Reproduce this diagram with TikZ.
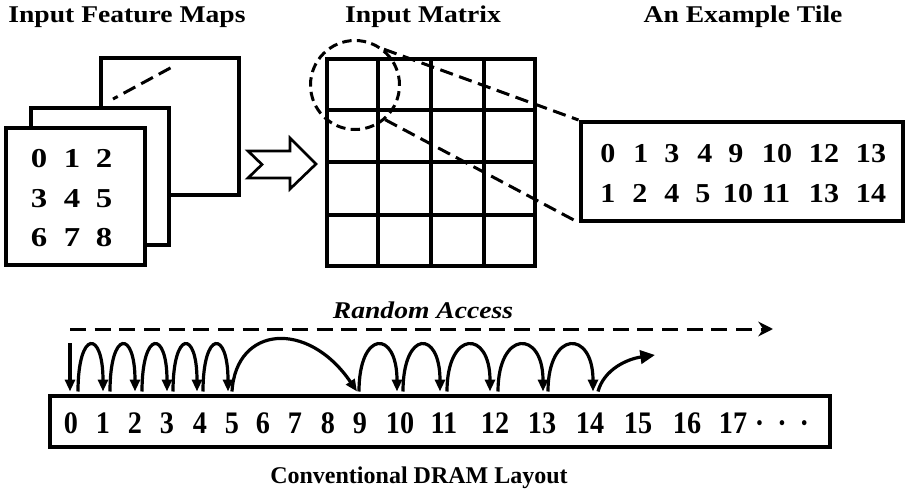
\documentclass[tikz,border=0pt]{standalone}
\usepackage{fontspec}
\setmainfont{Liberation Serif}
% widened / narrowed cuts of the same serif face
\newfontfamily\fTitle[FakeStretch=1.15]{Liberation Serif}
\newfontfamily\fConv[FakeStretch=1.0]{Liberation Serif}
\newfontfamily\fMap[FakeStretch=1.2]{Liberation Serif}
\newfontfamily\fTile[FakeStretch=1.1]{Liberation Serif}
\newfontfamily\fDram[FakeStretch=0.9]{Liberation Serif}
\usetikzlibrary{arrows.meta,calc}
\begin{document}
\begin{tikzpicture}[x=0.75pt,y=-0.75pt,
  frame/.style={draw, line width=3pt, fill=white, inner sep=0pt},
  gridline/.style={line width=3pt},
  heading/.style={font=\fTitle\bfseries\fontsize{18}{21}\selectfont, anchor=base, inner sep=0pt},
  mapnum/.style={font=\fMap\bfseries\fontsize{20.5}{24}\selectfont, anchor=base, inner sep=0pt},
  tilenum/.style={font=\fTile\bfseries\fontsize{20.5}{24}\selectfont, anchor=base, inner sep=0pt},
  dramnum/.style={font=\fDram\bfseries\fontsize{23.5}{27}\selectfont, anchor=base, inner sep=0pt},
  zoomline/.style={line width=2.25pt, dash pattern=on 10pt off 5pt},
  hop/.style={line width=2.4pt, -{Triangle[length=9pt,width=7.5pt]}},
]
\useasboundingbox (0,0) rectangle (908,492);

% ---- headings ----
\node[heading] (hMaps) at (127,23) {Input Feature Maps};
\node[heading] (hMat)  at (423,23) {Input Matrix};
\node[heading] (hTile) at (743,23) {An Example Tile};

% ---- stacked feature maps ----
\node[frame, minimum width=138*0.75pt, minimum height=137*0.75pt] (fmBack) at (170,126.5) {};
\draw[line width=2.25pt, dash pattern=on 10pt off 5pt, dash phase=12pt] (174,66) -- (113,99);
\node[frame, minimum width=138*0.75pt, minimum height=137*0.75pt] (fmMid) at (100,176.5) {};
\node[frame, minimum width=139*0.75pt, minimum height=137*0.75pt] (fmFront) at (75.5,196.5) {};
\foreach \v/\x/\y in {0/39/168, 1/72/168, 2/104/168,
                      3/39/207, 4/72/207, 5/104/207,
                      6/39/246, 7/72/246, 8/104/246}
  \node[mapnum] (m\v) at (\x,\y) {\v};

% ---- hollow arrow ----
\draw[line width=2pt, line join=miter] (248,151) -- (290,151) -- (290,138) -- (316,164)
  -- (290,189) -- (290,178) -- (248,178) -- (262,164.5) -- cycle;

% ---- input matrix grid ----
\node[draw, line width=3pt, inner sep=0pt, minimum width=207.5*0.75pt, minimum height=206*0.75pt] (mat) at (430.75,162.5) {};
\foreach \i in {1,2,3} {
  \draw[gridline] ($(mat.north west)!\i/4!(mat.north east)$) -- ($(mat.south west)!\i/4!(mat.south east)$);
  \draw[gridline] ($(mat.north west)!\i/4!(mat.south west)$) -- ($(mat.north east)!\i/4!(mat.south east)$);
}
\node[draw, circle, line width=2.25pt, dash pattern=on 7pt off 4pt, inner sep=0pt, minimum size=89*0.75pt] (lens) at (355,85) {};

% ---- example tile ----
\node[frame, minimum width=322*0.75pt, minimum height=98.5*0.75pt] (tile) at (741.5,171.25) {};
\draw[zoomline] (lens.51) -- (tile.north west);
\draw[zoomline] (lens.-49) -- (tile.south west);
\foreach \v/\x [count=\k] in {0/608, 1/641, 3/672, 4/705, 9/736, 10/777, 12/824, 13/871}
  \node[tilenum] (ta\k) at (\x,163) {\v};
\foreach \v/\x [count=\k] in {1/608, 2/640, 4/672, 5/703, 10/738, 11/776, 13/824, 14/871}
  \node[tilenum] (tb\k) at (\x,202) {\v};

% ---- conventional DRAM layout ----
\node[draw, line width=3pt, inner sep=0pt, minimum width=780*0.75pt, minimum height=51*0.75pt] (dram) at (440,421) {};
\foreach \v/\x in {0/71, 1/103, 2/135, 3/167, 4/200, 5/232, 6/263, 7/295, 8/328, 9/360,
                   10/400, 11/444, 12/495, 13/542, 14/590, 15/638, 16/687, 17/733}
  \node[dramnum] (d\v) at (\x,433) {\v};
\node[dramnum] (dots) at (782,433) {·\hspace{9.8pt}·\hspace{9.8pt}·};
\node[font=\fConv\bfseries\fontsize{18}{21}\selectfont, anchor=base, inner sep=0pt] (hDram) at (419,483) {Conventional DRAM Layout};

% random access marker
\node[font=\fTitle\bfseries\itshape\fontsize{18}{21}\selectfont, anchor=base, inner sep=0pt] (hRand) at (423,318) {Random Access};
\coordinate (raS) at (70,329);
\coordinate (raE) at (773,329);
\draw[line width=2.25pt, dash pattern=on 12pt off 6.5pt, -{Stealth[length=11pt,width=11pt]}] (raS) -- (raE);

% access hops along the row
\coordinate (top) at ($(dram.north)+(0,-2)$);
\coordinate (in0) at (70,343);
\draw[hop] (in0) -- (in0 |- top);
\foreach \a/\b/\sa/\eb in {0/1/7/0, 1/2/7/0, 2/3/7/0, 3/4/6/-3, 4/5/3/-4,
                           9/10/-1/-3, 10/11/3/-4, 11/12/3/-5, 12/13/3/1, 13/14/6/3}
  \draw[hop] ($(d\a |- top)+(\sa,0)$) .. controls +(0,-62) and +(0,-62) .. ($(d\b |- top)+(\eb,0)$);
\draw[hop] ($(d5 |- top)$) .. controls +(4,-66) and ($(d9 |- top)+(-52,-72)$) .. ($(d9 |- top)+(-3,0)$);
\coordinate (out14) at (655,355);
\draw[line width=2.4pt, -{Triangle[length=11pt,width=10pt]}] ($(d14 |- top)+(8,0)$) .. controls +(6,-22) and +(-28,4) .. (out14);
\end{tikzpicture}
\end{document}
